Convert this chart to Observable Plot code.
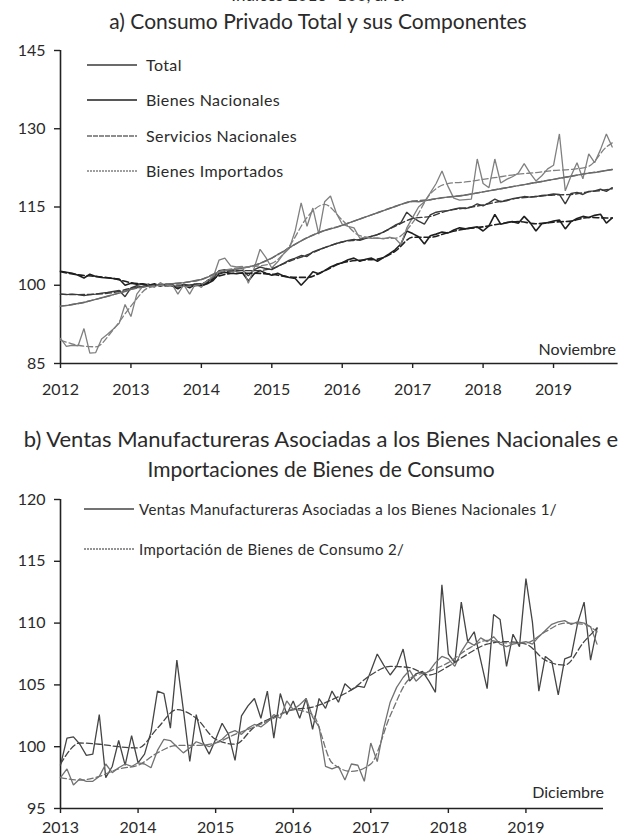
<!DOCTYPE html>
<html><head><meta charset="utf-8">
<script src="https://cdn.jsdelivr.net/npm/d3@7"></script>
<script src="https://cdn.jsdelivr.net/npm/@observablehq/plot@0.6"></script>
<style>
body{margin:0;background:#fff;}
#wrap{position:relative;width:620px;height:838px;overflow:hidden;font-family:Lato,"Open Sans",sans-serif;color:#2a2a2a;}
.abs{position:absolute;white-space:nowrap;line-height:1;}
.plot{position:absolute;left:0;}
.leg{position:absolute;height:18px;line-height:18px;white-space:nowrap;}
.leg svg{position:absolute;top:0;}
</style></head>
<body><div id="wrap"></div>
<script>
// ---------- Panel a ----------
const titleA = "a) Consumo Privado Total y sus Componentes";
const noteA = "Noviembre";
const startA = 2012;
const yearsA = [2012, 2013, 2014, 2015, 2016, 2017, 2018, 2019];
const yTicksA = [85, 100, 115, 130, 145];
const namesA = ["Total", "Bienes Nacionales", "Servicios Nacionales", "Bienes Importados"];
const totalA = [98.3,98.2,98.3,98.2,98.0,98.2,98.3,98.5,98.6,98.8,99.0,97.8,
 99.5,99.9,99.7,100.1,99.9,100.2,99.8,100.0,99.6,100.2,99.9,100.3,
 100.2,100.6,101.5,102.8,103.0,102.8,102.7,102.9,101.8,103.0,103.5,103.2,
 103.0,103.6,104.2,104.8,105.2,105.7,105.5,106.4,106.8,107.2,107.6,108.0,
 108.3,108.6,108.8,108.6,109.0,109.4,109.7,110.2,110.8,111.5,112.0,114.0,
 113.0,112.3,111.7,113.5,114.0,114.2,114.3,114.6,114.8,114.7,115.0,115.6,
 115.2,115.8,116.5,116.0,116.2,116.6,116.8,117.0,116.9,117.0,117.2,117.3,
 117.5,117.4,115.6,117.6,117.8,117.4,118.0,118.1,118.4,118.0,118.7];
const nacionalesA = [102.7,102.5,102.3,101.9,101.4,102.1,101.7,101.5,101.4,101.3,101.2,100.0,
 100.4,100.2,100.3,100.0,100.3,99.8,100.2,99.9,99.3,100.0,99.5,100.2,
 99.9,100.3,100.9,102.2,102.5,102.3,102.2,102.4,100.8,102.2,102.8,102.3,
 101.9,102.3,101.8,101.5,101.3,100.0,101.2,102.6,102.2,102.8,103.5,104.0,
 104.3,104.9,105.2,104.6,105.0,105.2,104.6,105.3,106.0,106.8,107.9,110.4,
 109.9,109.3,107.9,109.5,109.8,110.2,110.0,110.6,111.0,110.8,111.0,111.2,
 110.4,111.4,113.6,111.7,112.0,112.2,111.9,113.2,112.0,110.4,111.8,112.0,
 112.3,112.5,110.8,112.2,112.8,113.2,113.0,113.4,113.6,111.9,112.9];
const serviciosA = [96.0,96.1,96.3,96.5,96.7,97.0,97.3,97.6,97.9,98.2,98.5,98.8,
 99.2,99.5,99.7,99.8,100.0,100.1,100.2,100.3,100.4,100.5,100.7,100.9,
 101.1,101.5,102.0,102.6,102.9,103.0,103.1,103.3,103.5,103.8,104.2,104.7,
 105.2,105.9,106.5,107.2,107.9,108.5,109.1,109.6,110.1,110.5,110.8,111.1,
 111.5,111.9,112.3,112.7,113.1,113.5,113.9,114.3,114.7,115.1,115.5,115.9,
 116.1,116.0,116.2,116.4,116.6,116.8,116.9,117.0,117.1,117.3,117.5,117.7,
 117.9,118.1,118.3,118.5,118.7,118.9,119.1,119.3,119.5,119.7,119.9,120.1,
 120.3,120.5,120.7,120.9,121.1,121.3,121.5,121.6,121.8,122.0,122.2];
const importadosA = [89.8,88.3,88.5,88.4,91.7,87.0,87.1,89.7,90.6,91.6,92.7,96.3,
 94.0,98.3,99.8,100.3,99.6,100.5,99.8,100.2,98.3,100.1,98.3,100.3,
 99.6,100.9,101.5,104.8,105.2,103.7,103.5,103.6,100.4,103.3,106.9,105.3,
 103.3,104.5,106.0,107.1,110.5,115.8,111.3,114.8,109.8,116.0,117.1,113.8,
 111.7,111.3,111.0,109.0,109.2,109.0,109.1,108.9,109.2,109.0,107.8,111.0,
 113.0,115.0,116.0,117.7,119.5,121.9,119.0,116.7,116.3,116.4,116.5,124.2,
 119.5,118.7,124.2,119.6,120.3,120.8,121.5,123.3,121.5,120.0,121.0,122.3,
 123.0,129.0,118.1,121.0,123.5,120.4,125.2,123.5,126.0,129.0,126.5];
// trend (dashed) values at these month offsets
const trendMonthsA = [0,3,6,9,12,15,18,21,24,27,30,33,36,39,42,45,48,51,54,57,60,63,66,69,72,75,78,81,84,87,90,93,94];
const totalTrendA = [98.3,98.2,98.3,98.6,99.4,99.9,100.0,100.0,100.3,102.3,102.8,102.8,103.2,104.6,105.8,107.2,108.3,108.8,109.7,111.3,112.8,113.2,114.3,114.8,115.4,116.1,116.7,117.0,117.3,117.4,117.9,118.3,118.5];
const nacionalesTrendA = [102.6,102.0,101.7,101.3,100.5,100.1,100.0,99.9,100.0,101.8,102.3,102.3,102.1,101.6,101.5,102.8,104.3,104.8,105.0,106.5,109.2,109.2,110.1,110.8,111.2,111.8,112.2,111.8,112.1,112.3,113.0,112.9,112.9];
const serviciosTrendA = [96.0,96.5,97.3,98.2,99.2,99.8,100.2,100.5,101.1,102.6,103.1,103.8,105.2,107.2,109.1,110.5,111.5,112.7,113.9,115.1,116.1,116.4,116.9,117.3,117.9,118.5,119.1,119.7,120.3,120.9,121.5,122.0,122.2];
const importadosTrendA = [89.5,88.5,88.2,91.5,96.0,99.5,100.0,99.8,100.2,102.5,103.3,103.6,104.2,107.5,113.0,115.5,112.5,109.5,109.0,109.0,112.0,117.5,119.5,119.8,120.3,120.8,121.3,121.6,122.0,122.2,122.8,126.5,127.3];

// ---------- Panel b ----------
const titleB1 = "b) Ventas Manufactureras Asociadas a los Bienes Nacionales e";
const titleB2 = "Importaciones de Bienes de Consumo";
const noteB = "Diciembre";
const startB = 2013;
const yearsB = [2013, 2014, 2015, 2016, 2017, 2018, 2019];
const yTicksB = [95, 100, 105, 110, 115, 120];
const namesB = ["Ventas Manufactureras Asociadas a los Bienes Nacionales 1/", "Importación de Bienes de Consumo 2/"];
const ventasB = [98.5,100.7,100.8,100.2,99.3,99.4,102.6,97.5,98.4,100.5,98.5,100.9,
 98.7,99.4,101.2,104.5,104.3,101.5,107.0,103.0,98.8,102.6,100.4,99.4,
 100.6,101.9,101.0,98.9,102.5,103.3,103.9,102.3,104.5,100.7,104.3,102.6,
 103.7,102.3,103.9,101.4,103.9,103.1,104.5,103.6,105.1,104.6,104.9,104.8,
 106.1,107.5,106.6,105.8,106.5,107.9,105.3,105.9,106.1,105.3,104.4,113.1,
 107.5,106.8,111.7,108.5,109.3,107.0,104.7,110.7,110.3,106.5,109.1,108.1,
 113.6,110.1,104.5,107.3,106.9,104.2,107.1,107.3,110.0,111.7,107.0,109.6];
const importB = [97.5,98.2,96.9,97.4,97.2,97.2,97.6,98.6,97.9,98.3,98.6,98.4,
 98.7,98.6,98.3,99.7,100.6,100.5,100.0,99.5,99.9,100.4,100.2,100.0,
 100.3,100.6,101.1,101.3,101.0,101.5,101.8,101.6,102.0,102.6,102.3,103.7,
 103.0,103.4,103.9,102.4,101.6,98.4,98.2,98.4,97.3,98.6,98.5,97.2,
 100.3,98.8,101.5,103.6,104.8,105.6,106.2,105.3,105.8,106.1,106.8,107.3,
 107.1,106.5,107.7,108.5,108.2,108.8,108.5,108.9,108.3,108.1,108.3,108.4,
 108.5,108.3,108.9,109.4,109.9,110.1,110.2,109.9,110.1,110.0,109.7,108.3];
const trendMonthsB = [0,3,6,9,12,15,18,21,24,27,30,33,36,39,42,45,48,51,54,57,60,63,66,69,72,75,78,81,83];
const ventasTrendB = [98.6,100.3,100.2,100.0,99.9,101.5,103.0,102.3,100.6,100.2,101.6,102.4,103.0,103.2,103.8,104.6,105.8,106.5,106.4,105.8,106.5,107.5,108.3,108.5,108.3,107.0,106.6,108.5,109.6];
const importTrendB = [97.5,97.3,97.6,98.2,98.5,99.5,100.1,100.1,100.3,101.0,101.6,102.3,103.0,102.6,98.7,98.0,98.6,102.5,105.5,106.1,106.8,107.9,108.6,108.4,108.4,109.3,110.0,109.9,109.3];

// ---------- styles ----------
const stylesA = [
  {color:"#3a3a3a", width:1.4},
  {color:"#1f1f1f", width:1.6},
  {color:"#6a6a6a", width:1.4},
  {color:"#808080", width:1.3}
];
const stylesB = [
  {color:"#454545", width:1.3},
  {color:"#727272", width:1.3}
];

const wrap = document.getElementById("wrap");
const monthly = (vals, start) => vals.map((v, i) => ({x: start + i / 12, y: v}));
const knots = (months, vals, start) => vals.map((v, i) => ({x: start + months[i] / 12, y: v}));

function panel(o) {
  const marks = [
    Plot.ruleX([o.xDomain[0]], {y1: o.yDomain[0], y2: o.yDomain[1], stroke: "#222", strokeWidth: 1.6}),
    Plot.ruleY([o.yDomain[0]], {x1: o.xDomain[0], x2: o.xDomain[1], stroke: "#222", strokeWidth: 1.6}),
    Plot.axisY({ticks: o.yTicks, tickSize: 6, tickPadding: 9, label: null, stroke: "#222", strokeWidth: 1.4}),
    Plot.axisX({ticks: o.xTicks, tickSize: 5, tickPadding: o.xPad, tickFormat: d => String(d), label: null, stroke: "#222", strokeWidth: 1.4})
  ];
  o.series.forEach((s, i) => {
    const st = o.styles[i];
    marks.push(Plot.line(monthly(s, o.start), {x: "x", y: "y", stroke: st.color, strokeWidth: st.width, strokeLinejoin: "miter"}));
  });
  o.trends.forEach((s, i) => {
    const st = o.styles[i];
    marks.push(Plot.line(knots(o.trendMonths, s, o.start), {x: "x", y: "y", stroke: st.color, strokeWidth: st.width, strokeDasharray: "6,3", curve: "monotone-x"}));
  });
  const p = Plot.plot({
    width: 620, height: o.height,
    marginLeft: 60, marginRight: o.marginRight, marginTop: o.marginTop, marginBottom: o.marginBottom,
    x: {type: "linear", domain: o.xDomain, label: null},
    y: {domain: o.yDomain, label: null},
    style: {fontFamily: "Lato, 'Open Sans', sans-serif", fontSize: "16px", color: "#2a2a2a", background: "transparent", overflow: "visible"},
    marks
  });
  p.classList.add("plot");
  p.style.top = o.top + "px";
  wrap.appendChild(p);
}

panel({top: 0, height: 400, marginTop: 50, marginBottom: 37, marginRight: 2.4, xPad: 15,
  xDomain: [startA, startA + 95 / 12], yDomain: [85, 145], yTicks: yTicksA, xTicks: yearsA, start: startA,
  series: [totalA, nacionalesA, serviciosA, importadosA],
  trends: [totalTrendA, nacionalesTrendA, serviciosTrendA, importadosTrendA],
  trendMonths: trendMonthsA, styles: stylesA});

panel({top: 480, height: 358, marginTop: 19, marginBottom: 30, marginRight: 17, xPad: 8,
  xDomain: [startB, startB + 7], yDomain: [95, 120], yTicks: yTicksB, xTicks: yearsB, start: startB,
  series: [ventasB, importB], trends: [ventasTrendB, importTrendB],
  trendMonths: trendMonthsB, styles: stylesB});

// ---------- text ----------
function addText(txt, x, top, size, anchor, spacing) {
  const d = document.createElement("div");
  d.className = "abs";
  d.textContent = txt;
  d.style.fontSize = size + "px";
  d.style.top = top + "px";
  if (spacing) d.style.letterSpacing = spacing + "px";
  if (anchor === "middle") { d.style.left = x + "px"; d.style.transform = "translateX(-50%)"; }
  else if (anchor === "end") { d.style.right = (620 - x) + "px"; }
  else d.style.left = x + "px";
  wrap.appendChild(d);
  return d;
}
addText("Índices 2013=100, a. e.", 318, -14, 17, "middle");
addText(titleA, 318, 10, 21, "middle");
addText(noteA, 616, 341, 16, "end");
addText(titleB1, 321, 428, 22, "middle");
addText(titleB2, 321, 458, 21, "middle");
addText(noteB, 604, 784, 16, "end");

function legendRow(label, y, x0, x1, tx, size, spacing, st, dash) {
  const d = document.createElement("div");
  d.className = "leg";
  d.style.top = (y - 9) + "px";
  d.style.left = "0px";
  d.style.width = "620px";
  const ns = "http://www.w3.org/2000/svg";
  const s = document.createElementNS(ns, "svg");
  s.setAttribute("width", x1 - x0); s.setAttribute("height", 18);
  s.style.left = x0 + "px";
  const l = document.createElementNS(ns, "line");
  l.setAttribute("x1", 0); l.setAttribute("x2", x1 - x0); l.setAttribute("y1", 9); l.setAttribute("y2", 9);
  l.setAttribute("stroke", st.color); l.setAttribute("stroke-width", st.width);
  if (dash) l.setAttribute("stroke-dasharray", dash);
  s.appendChild(l);
  d.appendChild(s);
  const t = document.createElement("span");
  t.textContent = label;
  t.style.position = "absolute"; t.style.left = tx + "px"; t.style.fontSize = size + "px";
  t.style.letterSpacing = spacing + "px";
  d.appendChild(t);
  wrap.appendChild(d);
}
const legYA = [65, 100, 136, 171];
const dashA = [null, null, "5,1", "2,1"];
namesA.forEach((n, i) => legendRow(n, legYA[i], 87, 137, 146, 16, 0.4, stylesA[i], dashA[i]));
const legYB = [509, 549];
const dashB = [null, "2,1"];
namesB.forEach((n, i) => legendRow(n, legYB[i], 84, 134, 139, 15, 0.35, stylesB[i], dashB[i]));
</script>
</body></html>
